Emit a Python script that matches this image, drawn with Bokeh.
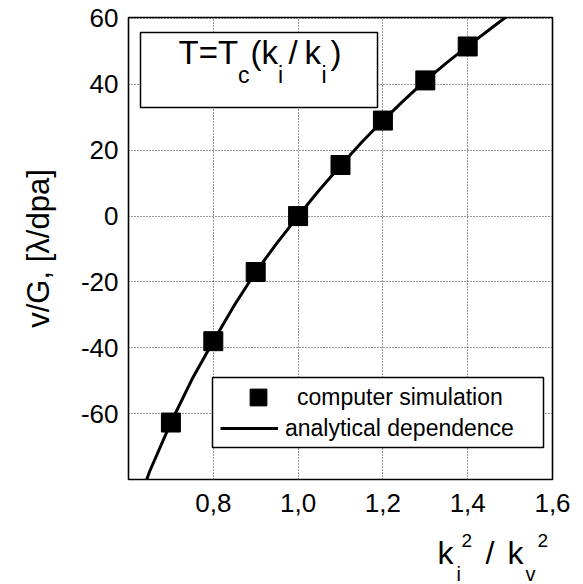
import math
from bokeh.plotting import figure
from bokeh.layouts import column
from bokeh.models import (FixedTicker, CustomJSTickFormatter, Range1d, Label,
                          BoxAnnotation, Legend, LegendItem)
from bokeh.embed import file_html
from bokeh.resources import INLINE

# ---- data ----
sim_x = [0.7, 0.8, 0.9, 1.0, 1.1, 1.2, 1.3, 1.4]
sim_y = [-62.7, -38.0, -17.0, 0.0, 15.5, 29.0, 41.2, 51.5]

curve_x = [0.643, 0.65, 0.70, 0.75, 0.80, 0.85, 0.90, 0.95, 1.00, 1.05,
           1.10, 1.15, 1.20, 1.25, 1.30, 1.35, 1.40, 1.45, 1.50]
curve_y = [-80.0, -77.5, -62.7, -49.5, -38.0, -27.0, -17.0, -8.2, 0.0, 7.9,
           15.3, 22.4, 29.0, 35.2, 41.1, 46.5, 51.6, 56.5, 61.4]

x_ticks = [0.8, 1.0, 1.2, 1.4, 1.6]
y_ticks = [-60, -40, -20, 0, 20, 40, 60]

legend_labels = ["computer simulation", "analytical dependence"]
y_title = "v/G, [\u03bb/dpa]"

# ---- layout ----
X0, X1 = 0.6, 1.6
Y0, Y1 = -80.0, 60.3
L, R, T, B = 128, 552, 17, 479
W, H = 583, 584
H_MAIN = 525          # main figure height; the x title lives in a strip below

def dx(px):
    return X0 + (px - L) * (X1 - X0) / (R - L)

def dy(py):
    return Y1 - (py - T) * (Y1 - Y0) / (B - T)

FONT = "Liberation Sans"

p = figure(width=W, height=H_MAIN, output_backend="svg", toolbar_location=None,
           x_range=Range1d(X0, X1), y_range=Range1d(Y0, Y1),
           min_border_left=L, min_border_right=W - R,
           min_border_top=T, min_border_bottom=H_MAIN - B)
p.background_fill_color = "white"
p.border_fill_color = "white"
p.outline_line_color = "black"
p.outline_line_width = 1.6

for ax, ticks, code in ((p.xaxis, x_ticks, "return tick.toFixed(1).replace('.', ',');"),
                        (p.yaxis, y_ticks, "return tick.toFixed(0);")):
    ax.ticker = FixedTicker(ticks=ticks)
    ax.formatter = CustomJSTickFormatter(code=code)
    ax.major_tick_in = 0
    ax.major_tick_out = 0
    ax.minor_tick_in = 0
    ax.minor_tick_out = 0
    ax.axis_line_color = None
    ax.major_label_text_font = FONT
    ax.major_label_text_font_size = "26px"
    ax.major_label_text_color = "black"
p.xaxis.major_label_standoff = 14
p.yaxis.major_label_standoff = 10

p.yaxis.axis_label = y_title
p.yaxis.axis_label_text_font = FONT
p.yaxis.axis_label_text_font_size = "31px"
p.yaxis.axis_label_text_font_style = "normal"
p.yaxis.axis_label_text_color = "black"
p.yaxis.axis_label_standoff = 22

for g in (p.xgrid, p.ygrid):
    g.grid_line_color = "#333333"
    g.grid_line_dash = "1 2"
    g.grid_line_width = 1

ln = p.line(curve_x, curve_y, line_width=3, color="black")
sc = p.scatter(sim_x, sim_y, marker="square", size=19, color="black")

box_style = dict(fill_color="white", fill_alpha=1.0,
                 line_color="black", line_alpha=1.0, line_width=1.5)
# title box
p.add_layout(BoxAnnotation(left=dx(140), right=dx(377), top=dy(32), bottom=dy(107),
                           **box_style))
# legend box
p.add_layout(BoxAnnotation(left=dx(212), right=dx(543), top=dy(377), bottom=dy(447),
                           **box_style))

leg_common = dict(padding=0, spacing=0, label_text_font=FONT, label_text_font_size="23px",
                  label_text_color="black", border_line_alpha=0, background_fill_alpha=0)
legend1 = Legend(items=[LegendItem(label=legend_labels[0], renderers=[sc])],
                 location=(220 - L, B - (397 + 21)), glyph_width=76, glyph_height=42,
                 label_standoff=1, **leg_common)
legend2 = Legend(items=[LegendItem(label=legend_labels[1], renderers=[ln])],
                 location=(220 - L, B - (428 + 15)), glyph_width=58, glyph_height=30,
                 label_standoff=7, **leg_common)
p.add_layout(legend1, "center")
p.add_layout(legend2, "center")

def put(fig, text, x, y, size, **kw):
    fig.add_layout(Label(x=x, y=y, text=text, text_font=FONT,
                         text_font_size=f"{size}px", text_color="black",
                         text_baseline="alphabetic", text_align="left", **kw))

def base(py, size):
    # rendered baseline lands ~0.4*size below the anchor; compensate
    return py - 0.4 * size

# T=Tc(ki / ki)
put(p, "T=T", dx(178), dy(base(65, 33)), 33)
put(p, "c", dx(237.5), dy(base(84, 23)), 23)
put(p, "(", dx(250), dy(base(65, 33)), 33)
put(p, "k", dx(261), dy(base(65, 33)), 33)
put(p, "i", dx(277.5), dy(base(84, 23)), 23)
put(p, "/", dx(288), dy(base(65, 33)), 33)
put(p, "k", dx(304), dy(base(65, 33)), 33)
put(p, "i", dx(321), dy(base(84, 23)), 23)
put(p, ")", dx(330), dy(base(65, 33)), 33)

# strip below for the x title: same horizontal frame as the main plot,
# vertical data units are canvas pixels
q = figure(width=W, height=H - H_MAIN, output_backend="svg", toolbar_location=None,
           x_range=Range1d(X0, X1), y_range=Range1d(H, H_MAIN),
           x_axis_location=None, y_axis_location=None,
           min_border_left=L, min_border_right=W - R,
           min_border_top=0, min_border_bottom=0)
q.outline_line_color = None
q.background_fill_color = "white"
q.border_fill_color = "white"
q.xgrid.visible = False
q.ygrid.visible = False

put(q, "k", dx(437), base(565, 32), 32)
put(q, "i", dx(456), base(581, 20), 20)
put(q, "2", dx(461), base(548, 19), 19)
put(q, "/", dx(485), base(565, 32), 32)
put(q, "k", dx(507), base(565, 32), 32)
put(q, "v", dx(525), base(581, 20), 20)
put(q, "2", dx(537), base(548, 19), 19)

layout = column(p, q, spacing=0)
open("out.html", "w").write(file_html(layout, INLINE))
